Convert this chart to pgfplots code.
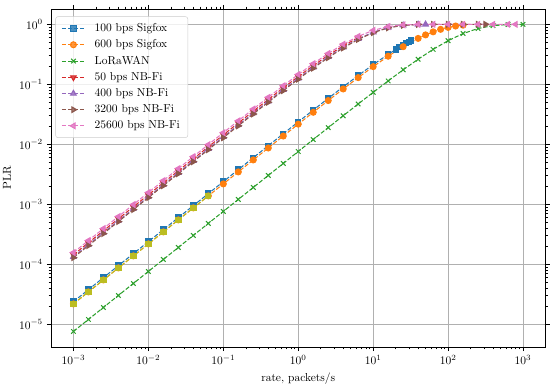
\documentclass[border=0pt]{standalone}
\usepackage{pgfplots}
\pgfplotsset{compat=1.18}
\definecolor{tabblue}{HTML}{1F77B4}
\definecolor{taborange}{HTML}{FF7F0E}
\definecolor{tabgreen}{HTML}{2CA02C}
\definecolor{tabred}{HTML}{D62728}
\definecolor{tabpurple}{HTML}{9467BD}
\definecolor{tabbrown}{HTML}{8C564B}
\definecolor{tabpink}{HTML}{E377C2}
\definecolor{tabolive}{HTML}{BCBD22}
\definecolor{gridgray}{HTML}{B0B0B0}
\begin{document}
\begin{tikzpicture}
\path[use as bounding box] (-44.3pt,-31.4pt) rectangle (433.7pt,301.6pt);
\begin{axis}[
  name=ax,
  xmode=log, ymode=log,
  scale only axis,
  width=429.8pt, height=293.8pt,
  xmin=5.012e-4, xmax=1995,
  ymin=4.207e-6, ymax=1.803,
  xtick={1e-3,1e-2,1e-1,1,10,100,1000},
  ytick={1e-5,1e-4,1e-3,1e-2,1e-1,1},
  grid=major,
  major grid style={gridgray, line width=0.8pt},
  tick align=outside,
  major tick length=3.5pt,
  minor tick length=2pt,
  every tick/.style={black, line width=0.6pt},
  axis line style={line width=0.8pt},
  xlabel={rate, packets/s},
  ylabel={PLR},
  tick label style={font=\normalsize},
  label style={font=\normalsize},
  legend cell align=left,
  legend style={at={(0.009,0.978)}, anchor=north west, draw=black!20, rounded corners=2pt,
    fill=white, fill opacity=0.8, text opacity=1, font=\normalsize,
    row sep=1.6pt, column sep=6pt, inner xsep=5pt, inner ysep=4pt},
  legend image code/.code={\draw[mark repeat=2,mark phase=2] plot coordinates {(0pt,0pt) (10pt,0pt) (20pt,0pt)};},
  every axis plot/.append style={line width=0.9pt, dash pattern=on 3.7pt off 1.6pt},
]
% 100 bps Sigfox
\addplot[color=tabblue, mark=square*, mark size=2.3pt, mark options={solid}] coordinates {
(0.001,2.4e-5) (0.001585,3.804e-5) (0.002512,6.029e-5) (0.003981,9.554e-5) (0.00631,1.5144e-4)
(0.01,2.3997e-4) (0.01585,3.8033e-4) (0.02512,6.027e-4) (0.03981,9.5498e-4) (0.0631,1.5133e-3)
(0.1,2.3971e-3) (0.1585,3.7968e-3) (0.2512,6.0107e-3) (0.3981,9.5089e-3) (0.631,0.01503)
(1,0.023714) (1.585,0.037326) (2.512,0.05851) (3.981,0.09112) (6.31,0.14053)
(10,0.21337) (15.85,0.31641) (20,0.38122) (22.5,0.41725) (25,0.45119) (27.5,0.48315) (30,0.51325) (32,0.53606)
};
\addlegendentry{100 bps Sigfox}
% 600 bps Sigfox
\addplot[color=taborange, mark=*, mark size=2.6pt, mark options={solid}] coordinates {
(0.001,2.2e-5) (0.001585,3.487e-5) (0.002512,5.526e-5) (0.003981,8.758e-5) (0.00631,1.3882e-4)
(0.01,2.1998e-4) (0.01585,3.4864e-4) (0.02512,5.5249e-4) (0.03981,8.7544e-4) (0.0631,1.3872e-3)
(0.1,2.1976e-3) (0.1585,3.4809e-3) (0.2512,5.5112e-3) (0.3981,8.72e-3) (0.631,0.013786)
(1,0.02176) (1.585,0.034269) (2.512,0.05377) (3.981,0.08385) (6.31,0.12962)
(10,0.19748) (15.85,0.29439) (25.12,0.42457) (39.81,0.58348) (50,0.66713) (63.1,0.75046)
(79.4,0.8257) (100,0.8892) (125.9,0.93734) (158.5,0.9694)
};
\addlegendentry{600 bps Sigfox}
% LoRaWAN
\addplot[color=tabgreen, mark=x, mark size=2.8pt, mark options={solid}] coordinates {
(0.001,7.65e-6) (0.001585,1.2125e-5) (0.002512,1.9217e-5) (0.003981,3.0455e-5) (0.00631,4.827e-5)
(0.01,7.65e-5) (0.01585,1.2125e-4) (0.02512,1.9215e-4) (0.03981,3.0452e-4) (0.0631,4.826e-4)
(0.1,7.647e-4) (0.1585,1.2118e-3) (0.2512,1.9198e-3) (0.3981,3.0408e-3) (0.631,4.815e-3)
(1,7.621e-3) (1.585,0.012052) (2.512,0.019033) (3.981,0.029996) (6.31,0.047126)
(10,0.07365) (15.85,0.11419) (25.12,0.17484) (39.81,0.26252) (63.1,0.38292)
(100,0.53467) (158.5,0.70257) (251.2,0.85364) (398.1,0.95243) (631,0.99199) (1000,0.99952)
};
\addlegendentry{LoRaWAN}
% 50 bps NB-Fi
\addplot[color=tabred, mark=triangle*, mark size=2.8pt, mark options={solid, rotate=180}] coordinates {
(0.001,1.45e-4) (0.001585,2.298e-4) (0.002512,3.642e-4) (0.003981,5.771e-4) (0.00631,9.145e-4)
(0.01,1.4489e-3) (0.01585,2.2957e-3) (0.02512,3.6358e-3) (0.03981,5.7559e-3) (0.0631,9.1078e-3)
(0.1,0.014395) (0.1585,0.022721) (0.2512,0.035769) (0.3981,0.05609) (0.631,0.08744)
(1,0.13498) (1.585,0.20533) (2.512,0.30525) (3.981,0.43857) (6.31,0.59948)
};
\addlegendentry{50 bps NB-Fi}
% 400 bps NB-Fi
\addplot[color=tabpurple, mark=triangle*, mark size=2.8pt, mark options={solid}] coordinates {
(0.001,1.35e-4) (0.001585,2.14e-4) (0.002512,3.391e-4) (0.003981,5.373e-4) (0.00631,8.513e-4)
(0.01,1.3491e-3) (0.01585,2.1375e-3) (0.02512,3.3855e-3) (0.03981,5.36e-3) (0.0631,8.4823e-3)
(0.1,0.013409) (0.1585,0.021171) (0.2512,0.033343) (0.3981,0.05232) (0.631,0.08166)
(1,0.12628) (1.585,0.19263) (2.512,0.28759) (3.981,0.41577) (6.31,0.57339)
(10,0.74076) (15.85,0.88233) (25.12,0.96634) (39.81,0.99537) (50,0.99883)
};
\addlegendentry{400 bps NB-Fi}
% 3200 bps NB-Fi
\addplot[color=tabbrown, mark=triangle*, mark size=2.8pt, mark options={solid, rotate=-90}] coordinates {
(0.001,1.3e-4) (0.001585,2.0605e-4) (0.002512,3.2654e-4) (0.003981,5.175e-4) (0.00631,8.1996e-4)
(0.01,1.2992e-3) (0.01585,2.0584e-3) (0.02512,3.2603e-3) (0.03981,5.1619e-3) (0.0631,8.1694e-3)
(0.1,0.012916) (0.1585,0.020394) (0.2512,0.032129) (0.3981,0.05044) (0.631,0.07875)
(1,0.1219) (1.585,0.18622) (2.512,0.27858) (3.981,0.40402) (6.31,0.5597)
(10,0.72747) (15.85,0.87262) (25.12,0.96183) (39.81,0.99435) (63.1,0.99973)
(100,1.0) (158.5,1.0) (251.2,1.0) (316.2,1.0)
};
\addlegendentry{3200 bps NB-Fi}
% 25600 bps NB-Fi
\addplot[color=tabpink, mark=triangle*, mark size=2.8pt, mark options={solid, rotate=90}] coordinates {
(0.001,1.58e-4) (0.001585,2.504e-4) (0.002512,3.968e-4) (0.003981,6.288e-4) (0.00631,9.965e-4)
(0.01,1.5788e-3) (0.01585,2.5012e-3) (0.02512,3.9611e-3) (0.03981,6.2703e-3) (0.0631,9.9205e-3)
(0.1,0.015676) (0.1585,0.024732) (0.2512,0.038913) (0.3981,0.06096) (0.631,0.0949)
(1,0.14615) (1.585,0.22152) (2.512,0.32761) (3.981,0.46686) (6.31,0.63102)
(10,0.79402) (15.85,0.91827) (25.12,0.98111) (39.81,0.99814) (63.1,0.99995)
(100,1.0) (158.5,1.0) (251.2,1.0) (398.1,1.0) (631,1.0) (794,1.0)
};
\addlegendentry{25600 bps NB-Fi}
% olive overlay (no legend)
\addplot[color=tabolive, mark=square*, mark size=2.3pt, mark options={solid}, forget plot] coordinates {
(0.001,2.2e-5) (0.001585,3.487e-5) (0.002512,5.526e-5) (0.003981,8.758e-5) (0.00631,1.3882e-4)
(0.01,2.1998e-4) (0.01585,3.4864e-4) (0.02512,5.5249e-4) (0.03981,8.7544e-4) (0.0631,1.3872e-3)
};
\end{axis}
\end{tikzpicture}
\end{document}
